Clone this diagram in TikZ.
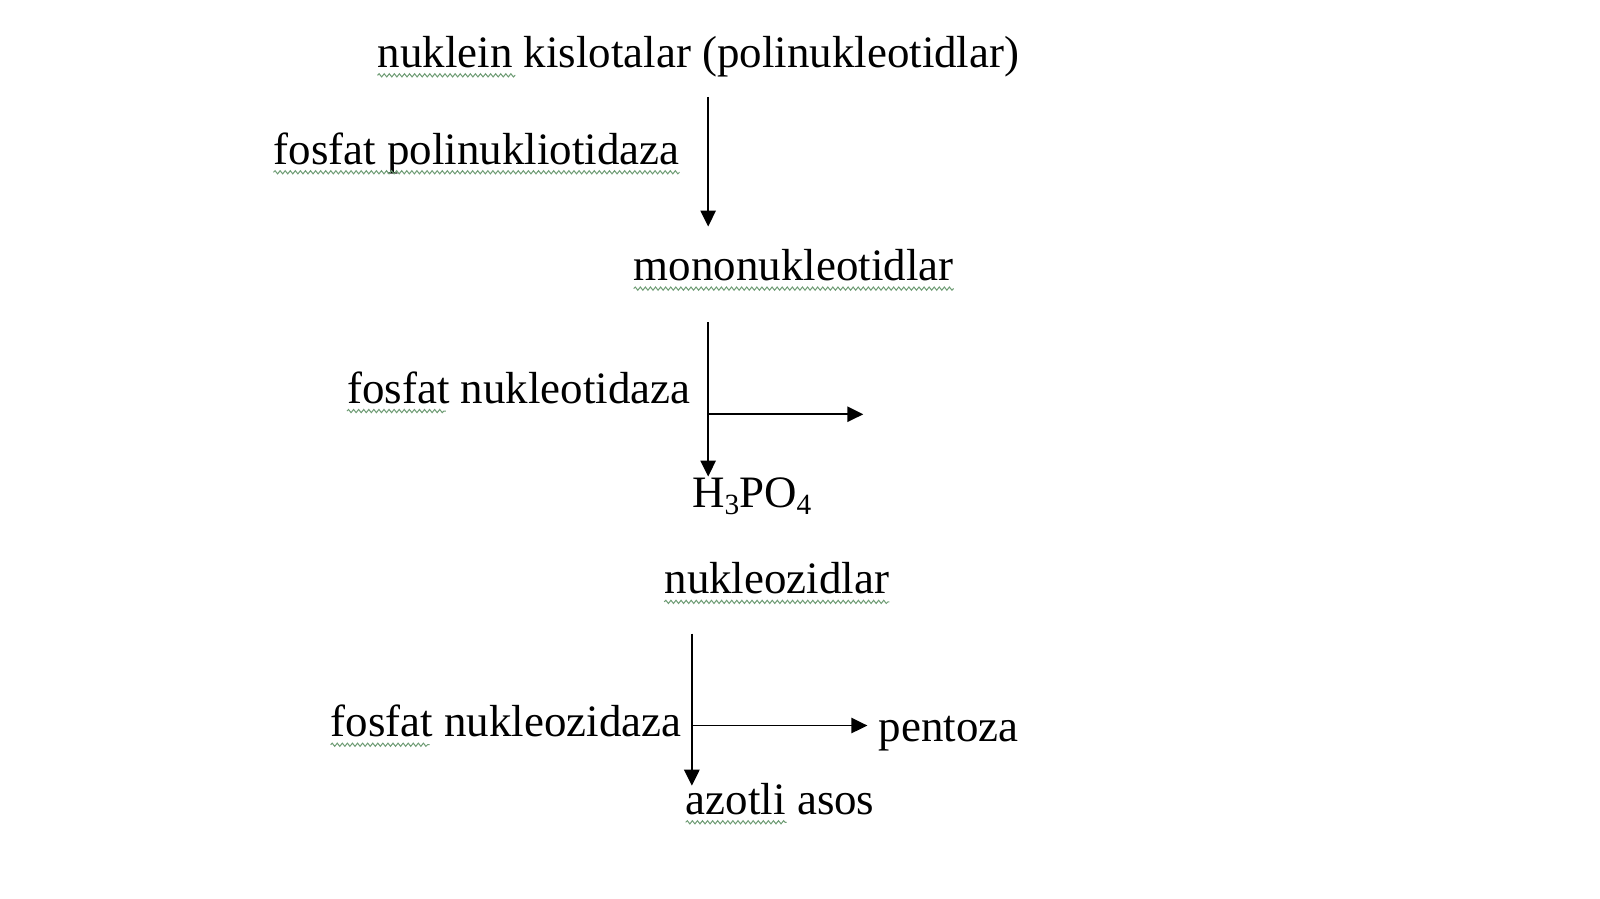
\documentclass[tikz,border=0pt]{standalone}
\usepackage{fontspec}
\setmainfont{Liberation Serif}
\usetikzlibrary{arrows.meta,decorations.pathmorphing}
\definecolor{squigcol}{HTML}{6E9C74}
\newcommand\chemsub[1]{\raisebox{-0.35ex}{\fontsize{22pt}{24pt}\selectfont #1}}
\begin{document}
\begin{tikzpicture}[x=0.7653pt,y=-0.7653pt,
  lbl/.style={anchor=base west,inner sep=0pt,font=\fontsize{33.7pt}{40pt}\selectfont},
  flow/.style={line width=1.35pt,-{Triangle[width=11.5pt,length=12pt]}},
  squig/.style={draw=squigcol,line width=0.75pt,decorate,decoration={snake,amplitude=1.2pt,segment length=3.8pt}}]
\fill[white] (0,0) rectangle (1568,881);
\useasboundingbox (0,0) rectangle (1568,881);
% texts
\node[lbl] (t1) at (370,66) {nuklein kislotalar (polinukleotidlar)};
\node[lbl] (t2) at (268,161) {fosfat polinukliotidaza};
\node[lbl] (t3) at (621,275) {mononukleotidlar};
\node[lbl] (t4) at (340,395) {fosfat nukleotidaza};
\node[lbl] (t5) at (678,497) {H\chemsub{3}PO\chemsub{4}};
\node[lbl] (t6) at (651,582) {nukleozidlar};
\node[lbl] (t7) at (324,722) {fosfat nukleozidaza};
\node[lbl] (t8) at (861,727) {pentoza};
\node[lbl] (t9) at (672,798) {azotli asos};
% arrows
\coordinate (a1s) at (694,95);
\coordinate (a1e) at (694,222);
\coordinate (a2s) at (694,316);
\coordinate (a2e) at (694,467);
\coordinate (a2b) at (694,406);
\coordinate (a2r) at (846,406);
\coordinate (a3s) at (678,621);
\coordinate (a3e) at (678,770);
\coordinate (a3b) at (678,711);
\coordinate (a3r) at (850,711);
\draw[flow] (a1s) -- (a1e);
\draw[flow] (a2s) -- (a2e);
\draw[flow] (a2b) -- (a2r);
\draw[flow] (a3s) -- (a3e);
\draw[flow] (a3b) -- (a3r);
% spell-check squiggles
\draw[squig] ([yshift=-6pt]t1.base west) -- ++(135,0);
\draw[squig] ([yshift=-6pt]t2.base west) -- ([yshift=-6pt]t2.base east);
\draw[squig] ([yshift=-6pt]t3.base west) -- ([yshift=-6pt]t3.base east);
\draw[squig] ([yshift=-6pt]t4.base west) -- ++(97,0);
\draw[squig] ([yshift=-6pt]t6.base west) -- ([yshift=-6pt]t6.base east);
\draw[squig] ([yshift=-6pt]t7.base west) -- ++(97,0);
\draw[squig] ([yshift=-6pt]t9.base west) -- ++(99,0);
\end{tikzpicture}
\end{document}
